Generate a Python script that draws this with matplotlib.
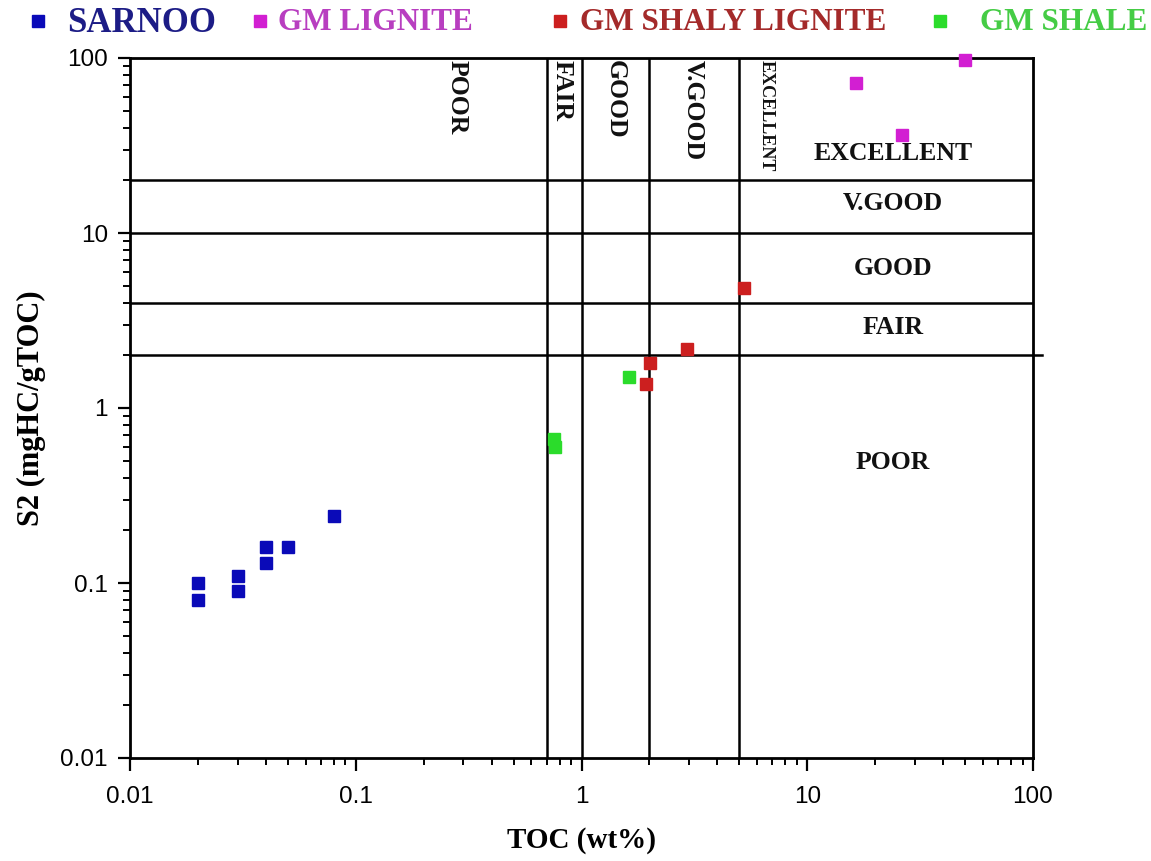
import matplotlib
matplotlib.use("Agg")
import matplotlib.pyplot as plt
from matplotlib.lines import Line2D
from matplotlib.ticker import LogLocator, FixedLocator, NullFormatter

# ---------------- data ----------------
series_names = ["SARNOO", "GM LIGNITE", "GM SHALY LIGNITE", "GM SHALE"]
marker_colors = ["#0a0ab8", "#d21fd2", "#cc1f1f", "#2bdc2b"]
text_colors = ["#1c1c86", "#b83ec0", "#a42a2a", "#45cc45"]

sarnoo_toc = [0.02, 0.02, 0.03, 0.03, 0.04, 0.04, 0.05, 0.08]
sarnoo_s2 = [0.10, 0.08, 0.11, 0.09, 0.16, 0.13, 0.16, 0.24]

lignite_toc = [16.4, 26.3, 50.0]
lignite_s2 = [72.0, 36.5, 97.0]

shaly_toc = [5.25, 2.93, 2.01, 1.93]
shaly_s2 = [4.85, 2.17, 1.81, 1.38]

shale_toc = [0.755, 0.765, 1.63]
shale_s2 = [0.665, 0.598, 1.50]

toc_bounds = [0.7, 1, 2, 5]
s2_bounds = [2, 4, 10, 20]

toc_class_labels = ["POOR", "FAIR", "GOOD", "V.GOOD", "EXCELLENT"]
toc_label_x = [0.28, 0.82, 1.41, 3.12, 6.6]
s2_class_labels = ["EXCELLENT", "V.GOOD", "GOOD", "FAIR", "POOR"]
s2_label_y = [28.5, 14.8, 6.3, 2.87, 0.485]
s2_label_x = 24.0

tick_vals = [0.01, 0.1, 1, 10, 100]
tick_labels = ["0.01", "0.1", "1", "10", "100"]

# ---------------- figure ----------------
fig = plt.figure(figsize=(11.51, 8.61), dpi=100)
ax = fig.add_axes([130 / 1151, 103 / 861, 903 / 1151, 700 / 861])
ax.set_xscale("log")
ax.set_yscale("log")
ax.set_xlim(0.01, 100)
ax.set_ylim(0.01, 100)

serif = ["Liberation Serif", "DejaVu Serif"]
sans = ["Liberation Sans", "DejaVu Sans"]

# classification lines
for b in toc_bounds:
    ax.axvline(b, color="black", lw=1.8, zorder=2)
for b in s2_bounds:
    if b == 2:
        ax.plot([0.01, 110], [b, b], color="black", lw=1.8, zorder=2, clip_on=False)
    else:
        ax.axhline(b, color="black", lw=1.8, zorder=2)

# class labels
for lab, x in zip(toc_class_labels, toc_label_x):
    fs = 13 if lab == "EXCELLENT" else 18.5
    ax.text(x, 97, lab, rotation=270, ha="center", va="top", fontsize=fs,
            fontweight="bold", family=serif, color="#111111", zorder=3)
for lab, y in zip(s2_class_labels, s2_label_y):
    ax.text(s2_label_x, y, lab, ha="center", va="center", fontsize=18.5,
            fontweight="bold", family=serif, color="#111111", zorder=3)

# data
ms = 8.5
all_x = [sarnoo_toc, lignite_toc, shaly_toc, shale_toc]
all_y = [sarnoo_s2, lignite_s2, shaly_s2, shale_s2]
for xs, ys, c in zip(all_x, all_y, marker_colors):
    ax.plot(xs, ys, linestyle="none", marker="s", ms=ms, mfc=c, mec=c,
            zorder=5, clip_on=False)

# axes styling
for s in ax.spines.values():
    s.set_linewidth(2.0)
ax.xaxis.set_major_locator(FixedLocator(tick_vals))
ax.yaxis.set_major_locator(FixedLocator(tick_vals))
ax.set_xticklabels(tick_labels)
ax.set_yticklabels(tick_labels)
ax.xaxis.set_minor_locator(LogLocator(base=10, subs=range(2, 10), numticks=20))
ax.yaxis.set_minor_locator(LogLocator(base=10, subs=range(2, 10), numticks=20))
ax.xaxis.set_minor_formatter(NullFormatter())
ax.yaxis.set_minor_formatter(NullFormatter())
ax.tick_params(which="major", direction="out", length=9, width=1.6,
               labelsize=17.5, top=False, right=False)
ax.tick_params(which="minor", direction="out", length=5, width=1.4,
               top=False, right=False)
ax.tick_params(axis="x", which="major", pad=11)
ax.tick_params(axis="y", which="major", pad=7)
for t in ax.get_xticklabels() + ax.get_yticklabels():
    t.set_family(sans)

ax.set_xlabel("TOC (wt%)", fontsize=21, fontweight="bold", family=serif, labelpad=14)
ax.set_ylabel("S2 (mgHC/gTOC)", fontsize=22, fontweight="bold", family=serif, labelpad=10)

# legend row on top
leg_marker_x = [38, 260, 560, 940]
leg_text_x = [67, 278, 580, 980]
leg_sizes = [25, 22.5, 22.5, 22.5]
for name, mc, tc, mx, tx, fs in zip(series_names, marker_colors, text_colors,
                                     leg_marker_x, leg_text_x, leg_sizes):
    fig.add_artist(Line2D([mx / 1151], [1 - 21 / 861], marker="s", ms=8.5,
                          mfc=mc, mec=mc, linestyle="none",
                          transform=fig.transFigure))
    fig.text(tx / 1151, 1 - 23 / 861, name, color=tc, fontsize=fs,
             family=serif, fontweight="bold", ha="left", va="center")

fig.savefig("out.png", dpi=100)
